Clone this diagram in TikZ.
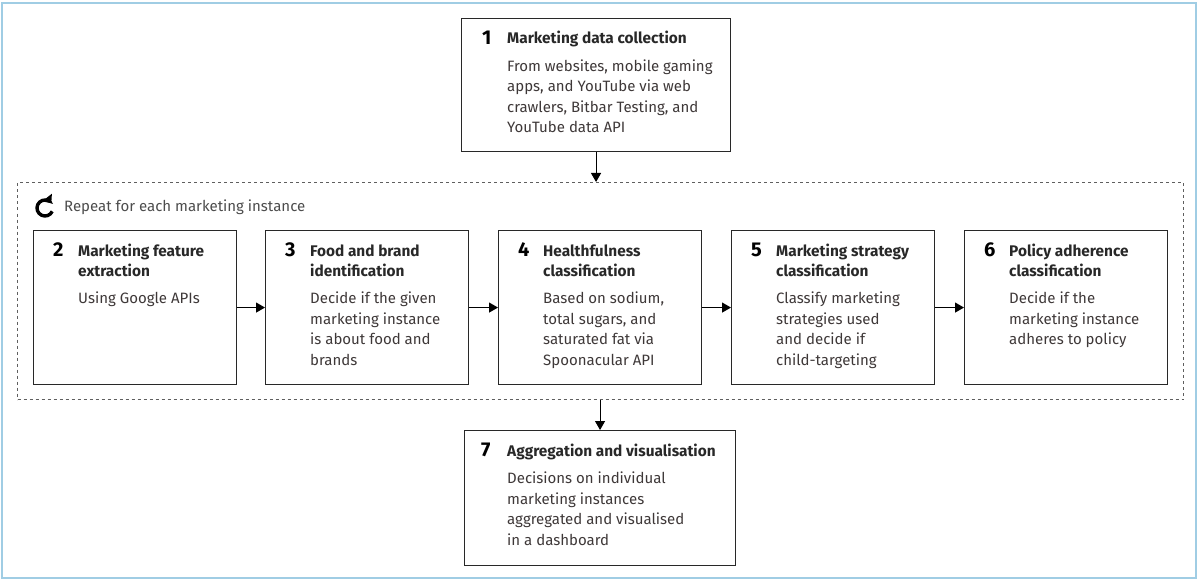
\documentclass[tikz,border=0pt]{standalone}
\usepackage{fontspec}
\setmainfont{Fira Sans}
\usetikzlibrary{arrows.meta,positioning}

\definecolor{framebl}{RGB}{160,205,228}
\definecolor{ink}{RGB}{40,40,40}
\definecolor{bodyink}{RGB}{62,56,56}
\definecolor{dashgray}{RGB}{95,95,95}

\tikzset{
  stepbox/.style={draw=ink,line width=1.1pt,rectangle,inner sep=0pt,anchor=north west},
  num/.style={font=\fontsize{20}{20}\selectfont\bfseries,text=black,inner sep=0pt,anchor=base west},
  txt/.style={font=\fontsize{15}{20.5}\selectfont,text=bodyink,inner sep=0pt,anchor=base west},
  link/.style={-{Triangle[width=10pt,length=9pt]},line width=1.1pt,draw=black},
}

\begin{document}
\begin{tikzpicture}[x=1pt,y=-1pt]
\useasboundingbox (0,0) rectangle (1198,580);
\draw[framebl,line width=1.3pt] (2,3) rectangle (1196,578);

% repeated part
\node[draw=dashgray,dash pattern=on 3pt off 3pt,line width=1pt,inner sep=0pt,
      minimum width=1166pt,minimum height=217pt,anchor=north west] (loop) at (17,182) {};
\draw[line width=3.4pt,-{Triangle[width=12pt,length=7pt]}] (45,208) ++(25:8) arc[start angle=25,end angle=322,radius=8];
\node[txt,anchor=west,text=dashgray!80!black] (rep) at (64,207) {Repeat for each marketing instance};

% step 1
\node[stepbox,minimum width=269pt,minimum height=133pt] (b1) at (461,18) {};
\node[num] at ([shift={(21,26.5)}]b1.north west) {1};
\node[txt] (t1) at ([shift={(46,26)}]b1.north west) {\begin{tabular}[t]{@{}l@{}}
  {\fontsize{15.4}{20}\selectfont\bfseries\color{ink}Marketing data collection}\\[7pt]
  From websites, mobile gaming\\apps, and YouTube via web\\crawlers, Bitbar Testing, and\\YouTube data API\end{tabular}};

% steps 2 to 6
\foreach \n/\x/\ttl/\txt in {
  2/33/{Marketing feature\\extraction}/{Using Google APIs},
  3/265/{Food and brand\\identification}/{Decide if the given\\marketing instance\\is about food and\\brands},
  4/498/{Healthfulness\\classification}/{Based on sodium,\\total sugars, and\\saturated fat via\\Spoonacular API},
  5/731/{Marketing strategy\\classification}/{Classify marketing\\strategies used\\and decide if\\child-targeting},
  6/964/{Policy adherence\\classification}/{Decide if the\\marketing instance\\adheres to policy}}
{
  \node[stepbox,minimum width=203pt,minimum height=154pt] (b\n) at (\x,230) {};
  \node[num] at ([shift={(20,26.5)}]b\n.north west) {\n};
  \node[txt,font=\fontsize{15.4}{20}\selectfont\bfseries,text=ink] (h\n) at ([shift={(45,26)}]b\n.north west)
    {\begin{tabular}[t]{@{}l@{}}\ttl\end{tabular}};
  \node[txt,anchor=north west] (t\n) at ([shift={(0,7)}]h\n.south west)
    {\begin{tabular}[t]{@{}l@{}}\txt\end{tabular}};
}

% step 7
\node[stepbox,minimum width=271pt,minimum height=135pt] (b7) at (464,430) {};
\node[num] at ([shift={(17,26.5)}]b7.north west) {7};
\node[txt] (t7) at ([shift={(43,26)}]b7.north west) {\begin{tabular}[t]{@{}l@{}}
  {\fontsize{15.4}{20}\selectfont\bfseries\color{ink}Aggregation and visualisation}\\[7pt]
  Decisions on individual\\marketing instances\\aggregated and visualised\\in a dashboard\end{tabular}};

% connectors
\draw[link] (b1.south) -- (b1.south |- loop.north);
\foreach \i/\j in {2/3,3/4,4/5,5/6}
  \draw[link] (b\i) -- (b\j);
\draw[link] (loop.south -| b7.north) -- (b7.north);
\end{tikzpicture}
\end{document}
